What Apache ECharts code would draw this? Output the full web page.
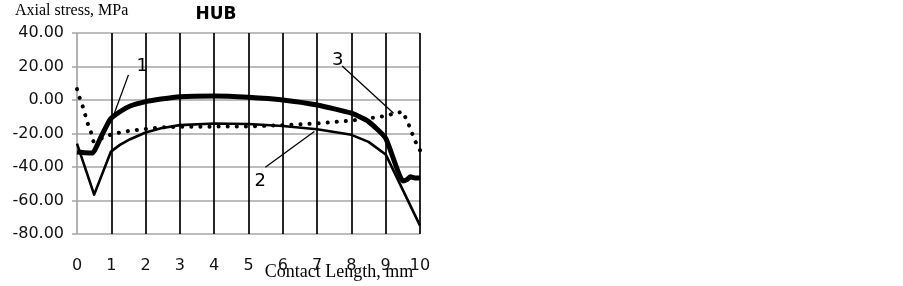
<!DOCTYPE html>
<html>
<head>
<meta charset="utf-8">
<script src="https://cdn.jsdelivr.net/npm/echarts@6/dist/echarts.min.js"></script>
<style>
html,body{margin:0;padding:0;background:#fff;}
#chart{width:903px;height:286px;}
</style>
</head>
<body>
<div id="chart"></div>
<script>
// ---- data ----
const xTicks = [0,1,2,3,4,5,6,7,8,9,10];
const yTicks = [-80,-60,-40,-20,0,20,40];

// Curve 1 (thick solid)
const x1 = [0, 0.25, 0.45, 0.7, 0.97, 1.25, 1.55, 2, 2.45, 3, 4, 5, 6, 7, 8, 8.5, 9, 9.5, 9.62, 9.72, 9.85, 10];
const y1 = [-31, -31.5, -31.7, -22, -11.5, -7, -3.6, -1, 0.6, 2, 2.4, 1.6, 0, -3, -7.9, -12.9, -22.8, -48.3, -47.5, -45.8, -46.5, -46.5];

// Curve 2 (thin solid)
const x2 = [0, 0.5, 0.99, 1.25, 1.55, 2, 2.45, 3, 4, 5, 6, 7, 8, 8.5, 9, 10];
const y2 = [-26, -56.5, -30.8, -26.8, -23.4, -19.4, -16.9, -15, -14, -14.3, -15.5, -17.5, -20.8, -25, -32.5, -75];

// Curve 3 (dotted)
const x3 = [0, 0.08, 0.17, 0.24, 0.31, 0.41, 0.48, 0.97, 1.25, 1.5, 1.75, 2, 2.5, 3, 4, 5, 6, 7, 8, 8.5, 9, 9.25, 9.5, 9.6, 9.72, 9.83, 10];
const y3 = [6.5, 1, -4, -8.9, -13.9, -19.4, -24.8, -20.8, -19.4, -18.5, -17.9, -17.3, -16.3, -15.9, -15.9, -15.8, -15, -14, -12.3, -10.9, -9.5, -8, -7, -11.5, -17, -23.4, -30];

// Curve labels with leader lines (data coordinates)
const curveLabels = ['1', '2', '3'];
const labelAt = [[1.9, 19.9], [5.34, -48.6], [7.6, 23.9]];
const leaderFrom = [[1.5, 15.0], [5.49, -40.2], [7.73, 20.3]];
const leaderTo = [[1.07, -8.9], [6.92, -18.8], [9.23, -7.9]];

const titleText = 'HUB';
const yName = 'Axial stress, MPa';
const xName = 'Contact Length, mm';

// ---- build ----
const zip = (xs, ys) => xs.map((x, i) => [x, ys[i]]);
const sans = 'DejaVu Sans';

const chart = echarts.init(document.getElementById('chart'), null, {renderer: 'canvas'});

const vColors = xTicks.map((t, i) => i === 0 ? '#a6a6a6' : '#000');

const option = {
  animation: false,
  backgroundColor: '#fff',
  grid: {left: 77, right: 483, top: 33, bottom: 52, containLabel: false},
  xAxis: {
    type: 'value', min: 0, max: 10, interval: 1,
    axisLine: {show: false},
    axisTick: {show: false},
    axisLabel: {margin: 24, fontFamily: sans, fontSize: 16, color: '#111',
      formatter: v => String(v)},
    splitLine: {show: true, lineStyle: {color: vColors, width: 1.7}}
  },
  yAxis: {
    type: 'value', min: -80, max: 40, interval: 20,
    axisLine: {show: false},
    axisTick: {show: true, length: 5, lineStyle: {color: '#a6a6a6', width: 1.5}},
    axisLabel: {margin: 13, fontFamily: sans, fontSize: 16, color: '#111',
      formatter: v => v.toFixed(2)},
    splitLine: {show: true, lineStyle: {color: '#a6a6a6', width: 1.6}}
  },
  series: [
    {
      name: '3', type: 'line', data: zip(x3, y3), showSymbol: false, smooth: false,
      lineStyle: {color: '#000', width: 4, type: [0.1, 9], cap: 'round'},
      z: 2
    },
    {
      name: '2', type: 'line', data: zip(x2, y2), showSymbol: false, smooth: false,
      lineStyle: {color: '#000', width: 2.6, join: 'round'},
      z: 3,
      markLine: {
        silent: true, symbol: ['none', 'none'], animation: false,
        label: {show: false},
        lineStyle: {color: '#000', width: 1.3, type: 'solid'},
        data: leaderFrom.map((p, i) => [{coord: p}, {coord: leaderTo[i]}])
      },
      markPoint: {
        silent: true, symbol: 'circle', symbolSize: 0, animation: false,
        label: {show: true, position: 'inside', color: '#000', fontFamily: sans, fontSize: 18,
          formatter: p => p.name},
        data: curveLabels.map((t, i) => ({name: t, coord: labelAt[i]}))
      }
    },
    {
      name: '1', type: 'line', data: zip(x1, y1), showSymbol: false, smooth: 0.15,
      lineStyle: {color: '#000', width: 5, join: 'round'},
      z: 4
    }
  ],
  graphic: [
    {type: 'text', left: 15, top: 3,
      style: {text: yName, font: '16px "Liberation Serif"', fill: '#000'}},
    {type: 'text', x: 216, y: 15,
      style: {text: titleText, font: 'bold 17px "DejaVu Sans"', fill: '#000', textAlign: 'center', textVerticalAlign: 'middle'}},
    {type: 'text', x: 339, y: 272,
      style: {text: xName, font: '18px "Liberation Serif"', fill: '#000', textAlign: 'center', textVerticalAlign: 'middle'}}
  ]
};
chart.setOption(option);
</script>
</body>
</html>
